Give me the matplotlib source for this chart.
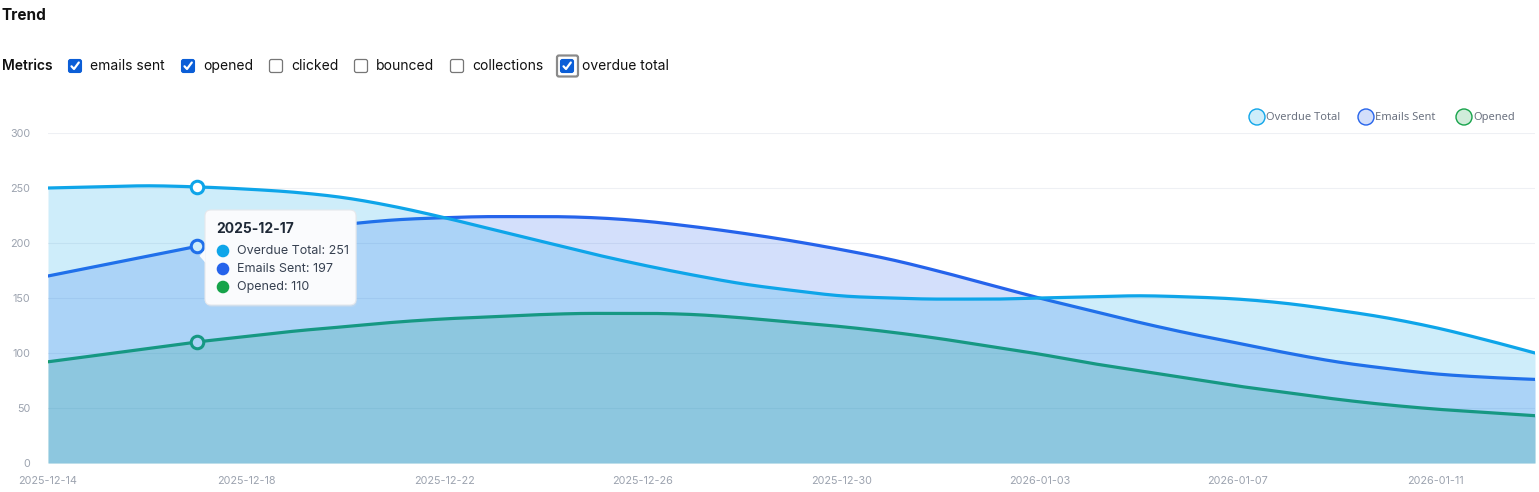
import numpy as np
import pandas as pd
import matplotlib
matplotlib.use("Agg")
import matplotlib.pyplot as plt
from matplotlib.patches import FancyBboxPatch, Circle, Polygon

# data, one value per day
dates = pd.date_range("2025-12-14", periods=31)
overdue_total = [250, 251, 252, 251, 249, 246, 241, 233, 223, 212, 201, 190, 180, 171, 163, 157,
                 152, 150, 149, 149, 150, 151, 152, 151, 149, 145, 139, 132, 123, 112, 100]
emails_sent = [170, 179, 188, 197, 205, 212, 217, 221, 223, 224, 224, 223, 220, 215, 209, 202,
               194, 185, 174, 162, 150, 139, 128, 118, 109, 100, 92, 86, 81, 78, 76]
opened = [92, 98, 104, 110, 115, 120, 124, 128, 131, 133, 135, 136, 136, 135, 132, 128,
          124, 119, 113, 106, 99, 91, 84, 77, 70, 64, 58, 53, 49, 46, 43]
y_ticks = [0, 50, 100, 150, 200, 250, 300]
hover = 3  # 2025-12-17

metrics = ["emails sent", "opened", "clicked", "bounced", "collections", "overdue total"]
checked = [True, True, False, False, False, True]

C_OVERDUE = "#0ea5e9"
C_EMAILS = "#2563eb"
C_OPENED = "#16a34a"
GREY = "#9ca3af"

W, H = 1539, 492
plt.rcParams["font.family"] = ["Inter", "DejaVu Sans"]


def monotone(x, y, n=24):
    # same curve as d3 curveMonotoneX
    x = np.asarray(x, float)
    y = np.asarray(y, float)
    h = np.diff(x)
    s = np.diff(y) / h
    t = np.zeros(len(x))
    for i in range(1, len(x) - 1):
        p = (s[i - 1] * h[i] + s[i] * h[i - 1]) / (h[i - 1] + h[i])
        t[i] = (np.sign(s[i - 1]) + np.sign(s[i])) * min(abs(s[i - 1]), abs(s[i]), 0.5 * abs(p))
    t[0] = (3 * s[0] - t[1]) / 2
    t[-1] = (3 * s[-1] - t[-2]) / 2
    xs, ys = [], []
    u = np.linspace(0, 1, n, endpoint=False)
    for i in range(len(x) - 1):
        h00 = 2 * u**3 - 3 * u**2 + 1
        h10 = u**3 - 2 * u**2 + u
        h01 = -2 * u**3 + 3 * u**2
        h11 = u**3 - u**2
        xs.append(x[i] + u * h[i])
        ys.append(h00 * y[i] + h10 * h[i] * t[i] + h01 * y[i + 1] + h11 * h[i] * t[i + 1])
    xs.append([x[-1]])
    ys.append([y[-1]])
    return np.concatenate(xs), np.concatenate(ys)


fig = plt.figure(figsize=(W / 100, H / 100), dpi=100)
ax = fig.add_axes([48 / W, (H - 463) / H, (1535 - 48) / W, (463 - 133) / H])

days = np.arange(len(dates))
series = [(opened, C_OPENED), (emails_sent, C_EMAILS), (overdue_total, C_OVERDUE)]
# opened drawn first, overdue last (later fills tint the lines and dots below them)
for k, (vals, col) in enumerate(series):
    cx, cy = monotone(days, vals)
    ax.fill_between(cx, 0, cy, color=col, alpha=0.2, lw=0, zorder=2 + 3 * k)
    ax.plot(cx, cy, color=col, lw=2.3, zorder=3 + 3 * k, solid_capstyle="round")
    ax.plot(days[hover], vals[hover], "o", ms=9, mfc="white", mec=col, mew=2.2, zorder=4 + 3 * k)

ax.set_xlim(0, len(dates) - 1)
ax.set_ylim(0, 300)
ax.set_yticks(y_ticks)
ax.set_xticks(days[::4])
ax.set_xticklabels([d.strftime("%Y-%m-%d") for d in dates[::4]])
ax.tick_params(length=0, colors=GREY, labelsize=7.8)
ax.tick_params(axis="x", pad=9)
ax.tick_params(axis="y", pad=13)
ax.grid(axis="y", color="#eef0f4", lw=0.8)
ax.set_axisbelow(True)
for sp in ax.spines.values():
    sp.set_visible(False)

# overlay in pixel coords for the page widgets
ov = fig.add_axes([0, 0, 1, 1], zorder=10)
ov.set_xlim(0, W)
ov.set_ylim(H, 0)
ov.axis("off")
ov.patch.set_alpha(0)

ov.text(2, 15, "Trend", fontsize=11, fontweight="bold", color="#111111", va="center")
ov.text(2, 66, "Metrics", fontsize=10, fontweight="semibold", color="#111111", va="center")

box_x = [75, 188, 276, 361, 457, 567]
for name, on, bx in zip(metrics, checked, box_x):
    if on:
        ov.add_patch(FancyBboxPatch((bx - 6.5, 59.5), 13, 13, boxstyle="round,pad=0,rounding_size=2",
                                    fc="#0b5ed7", ec="#0b5ed7", lw=0.8))
        ov.plot([bx - 3.5, bx - 1, bx + 3.8], [66.3, 69, 62.5], color="white", lw=1.6,
                solid_capstyle="round", solid_joinstyle="round")
    else:
        ov.add_patch(FancyBboxPatch((bx - 6.5, 59.5), 13, 13, boxstyle="round,pad=0,rounding_size=2",
                                    fc="white", ec="#767676", lw=0.9))
    ov.text(bx + 15, 66, name, fontsize=10, color="#111111", va="center")
# focus ring on the last box
ov.add_patch(FancyBboxPatch((bx - 10, 55.5), 21, 21, boxstyle="round,pad=0,rounding_size=2",
                            fc="none", ec="#8a8a8a", lw=1.6))

# legend
legend = [("Overdue Total", C_OVERDUE, 1257), ("Emails Sent", C_EMAILS, 1366), ("Opened", C_OPENED, 1464)]
for name, col, lx in legend:
    ov.add_patch(Circle((lx, 117), 8, fc=matplotlib.colors.to_rgba(col, 0.2), ec=col, lw=1.0))
    ov.text(lx + 9, 117.5, name, fontsize=8, color="#6b7280", va="center", family=["Noto Sans", "DejaVu Sans"])

# tooltip
ov.add_patch(FancyBboxPatch((206, 212), 151, 95, boxstyle="round,pad=0,rounding_size=6",
                            fc="#d9dde3", ec="none", alpha=0.35))
ov.add_patch(FancyBboxPatch((205, 210), 151, 95, boxstyle="round,pad=0,rounding_size=6",
                            fc="#fafbfd", ec="#e6e8ec", lw=0.8))
ov.add_patch(Polygon([(205.6, 249), (199.5, 256), (205.6, 263)], closed=True, fc="#fafbfd", ec="none"))
ov.text(216, 229, dates[hover].strftime("%Y-%m-%d"), fontsize=10, fontweight="bold",
        color="#1f2937", va="center")
rows = [("Overdue Total", overdue_total, C_OVERDUE), ("Emails Sent", emails_sent, C_EMAILS),
        ("Opened", opened, C_OPENED)]
for k, (name, vals, col) in enumerate(rows):
    yy = 251 + 18 * k
    ov.add_patch(Circle((223, yy), 6.3, fc=col, ec="none"))
    ov.text(237, yy, f"{name}: {vals[hover]}", fontsize=9, color="#374151", va="center")

fig.savefig("out.png", dpi=100)
